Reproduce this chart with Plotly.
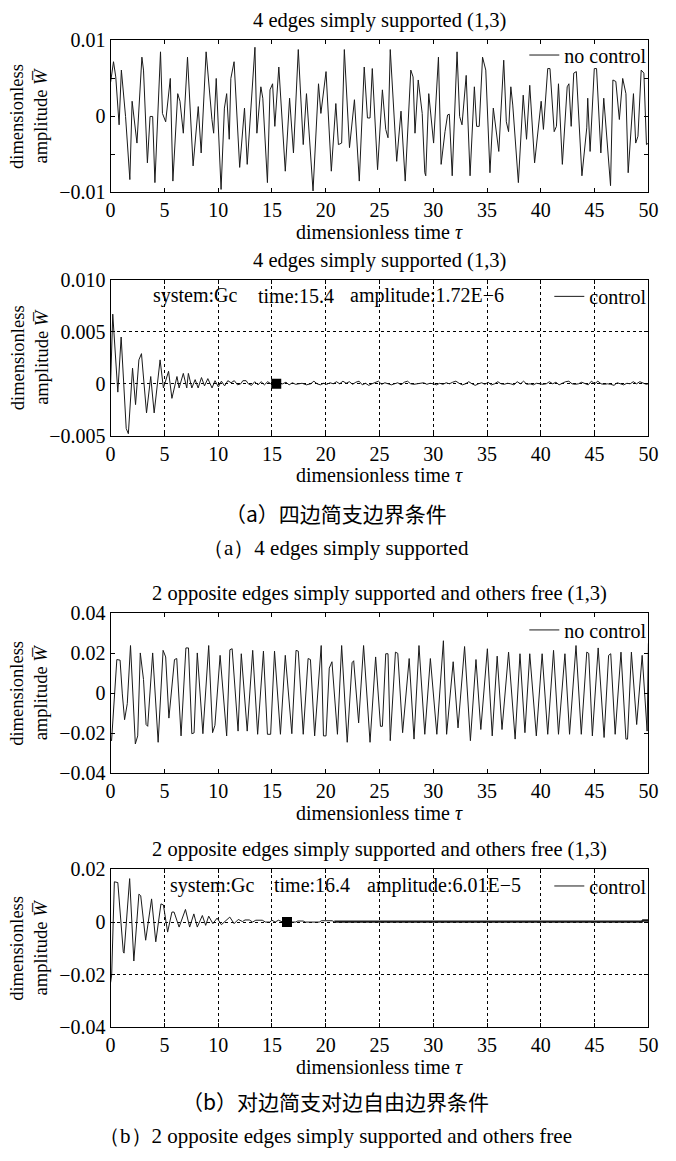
import plotly.graph_objects as go

# ---------------- data (amplitudes in units of 1e-3) ----------------
# Panel (a) no control: 4 edges simply supported
t1 = [0.0, 0.27, 0.48, 0.79, 1.0, 1.39, 1.79, 2.0, 2.45, 2.91,
      3.06, 3.42, 3.67, 3.91, 4.12, 4.64, 4.82, 5.12, 5.55, 5.79,
      6.24, 6.45, 6.76, 7.15, 7.67, 8.15, 8.42, 8.88, 9.42, 9.58,
      9.82, 10.27, 10.58, 10.79, 11.03, 11.18, 11.48, 12.0, 12.45, 12.7,
      13.42, 13.6, 13.97, 14.15, 14.58, 14.82, 15.06, 15.27, 15.64, 16.24,
      16.64, 17.0, 17.45, 17.91, 18.21, 18.82, 19.33, 19.55, 20.03, 20.52,
      20.94, 21.18, 21.48, 21.73, 22.21, 22.67, 23.12, 23.58, 23.88, 24.12,
      24.33, 24.82, 25.27, 25.58, 25.79, 26.0, 26.6, 27.0, 27.39, 27.91,
      28.12, 28.3, 28.6, 28.97, 29.21, 29.3, 29.58, 30.03, 30.48, 30.73,
      31.09, 31.33, 31.49, 31.76, 32.21, 32.45, 32.67, 33.06, 33.42, 33.82,
      34.03, 34.27, 34.58, 34.88, 35.27, 35.58, 36.09, 36.55, 36.79, 37.0,
      37.21, 37.39, 37.91, 38.21, 38.36, 38.67, 38.97, 39.42, 40.03, 40.24,
      40.64, 40.85, 41.24, 41.45, 41.64, 42.0, 42.3, 42.45, 42.61, 42.82,
      43.06, 43.3, 43.82, 44.27, 44.36, 44.58, 44.97, 45.18, 45.58, 45.85,
      46.48, 46.7, 46.97, 47.3, 47.61, 47.91, 48.12, 48.61, 48.82, 49.03,
      49.33, 49.58, 49.82, 50.0]
w1 = [4.5, 7.2, 5.2, -1.1, 6.1, 0.0, -8.3, 2.0, -3.5, 7.8,
      6.1, -6.1, 0.0, 0.0, -8.7, 8.5, 0.4, -0.7, 5.0, -8.5,
      3.0, 2.0, -2.2, 7.8, -6.5, 1.3, -4.8, 8.5, -0.4, -2.2,
      5.0, -9.6, 1.1, 3.0, -3.0, 5.0, 7.2, -6.7, 1.1, -6.3,
      9.1, -2.2, 3.9, 2.4, -8.7, 3.5, 4.3, -1.3, 6.5, -7.2,
      2.4, -4.8, 8.8, -3.7, 3.0, -9.8, 4.3, 0.4, 5.9, -7.2,
      1.7, -3.7, -3.5, 8.8, -4.1, 2.2, -8.5, 6.5, -0.2, -0.2,
      6.3, -7.0, 3.5, -1.7, -2.8, 8.8, -5.9, 0.7, -8.5, 6.1,
      5.2, -2.2, 4.8, 0.4, -7.4, -7.8, 3.0, -3.5, 7.8, -6.3,
      -2.0, 0.2, 0.3, -7.8, 8.5, 0.0, -1.1, 5.4, -7.8, 3.9,
      -1.3, -1.3, 7.8, 6.1, -7.4, 1.1, -4.6, 7.4, -0.7, -2.0,
      3.9, 1.5, -8.7, 0.2, 2.8, -3.0, 4.1, -6.1, 2.0, -1.7,
      6.3, 6.3, -2.0, -1.3, 4.3, -6.3, 1.7, 3.9, 4.3, -1.3,
      5.7, 5.9, -7.8, -1.5, 2.4, -4.6, 6.3, 6.3, -4.8, 2.4,
      -9.1, 4.8, 4.6, -0.4, 5.0, 3.0, -7.4, 3.0, -3.5, -2.6,
      6.1, 5.7, -3.7, -3.5]

# Panel (a) control
t2 = [0.0, 0.2, 0.67, 0.98, 1.45, 1.65, 2.04, 2.32, 2.63, 2.87,
      3.34, 3.73, 4.05, 4.6, 4.91, 5.39, 5.7, 6.17, 6.37, 6.76,
      7.08, 7.23, 7.55, 7.86, 8.14, 8.45, 8.73, 9.04, 9.43, 9.71,
      10.02,
      10.3, 10.6, 10.9, 11.2, 11.5, 11.8, 12.1, 12.3, 12.6, 12.8,
      13.1, 13.4, 13.7, 14.0, 14.3, 14.6, 14.9, 15.4, 16.0, 16.3,
      16.6, 16.9, 17.2, 17.5, 17.8, 18.2, 18.6, 18.9, 19.2, 19.5,
      19.8, 20.1, 20.4, 20.7, 21.0, 21.3, 21.6, 21.9, 22.2, 22.5,
      22.8, 23.1, 23.4, 23.7, 24.0, 24.3, 24.6, 24.9, 25.2, 25.5,
      25.8, 26.1, 26.4, 26.7, 27.0, 27.3, 27.6, 27.9, 28.2, 28.5,
      28.8, 29.1, 29.4, 29.7, 30.0, 30.3, 30.6, 30.9, 31.2, 31.5,
      31.8, 32.1, 32.4, 32.7, 33.0, 33.3, 33.6, 33.9, 34.2, 34.5,
      34.8, 35.1, 35.4, 35.7, 36.0, 36.3, 36.6, 36.9, 37.2, 37.5,
      37.8, 38.1, 38.4, 38.7, 39.0, 39.3, 39.6, 39.9, 40.2, 40.5,
      40.8, 41.1, 41.4, 41.7, 42.0, 42.3, 42.6, 42.9, 43.2, 43.5,
      43.8, 44.1, 44.4, 44.7, 45.0, 45.3, 45.6, 45.9, 46.2, 46.5,
      46.8, 47.1, 47.4, 47.7, 48.0, 48.3, 48.6, 48.9, 49.2, 49.5,
      49.8, 50.0]
w2 = [0.0, 6.7, -0.8, 4.5, -4.3, -4.8, 1.5, -2.0, 2.3, 2.9,
      -2.8, 0.7, -2.8, 2.3, -0.4, 1.2, -1.4, 0.7, -0.4, 1.0,
      -0.4, 1.0, -0.4, 0.4, -0.4, 0.6, -0.2, 0.5, -0.4, 0.3,
      -0.3,
      0.25, -0.2, 0.3, 0.1, 0.3, -0.1, 0.0, 0.3, 0.3, 0.0,
      -0.15, 0.2, -0.1, 0.2, -0.1, 0.2, 0.0, 0.0, 0.0, 0.15,
      -0.1, 0.1, -0.05, 0.0, 0.05, -0.1, 0.0, 0.25, 0.0, -0.1,
      0.05, -0.05, 0.1, 0.0, 0.2, 0.0, 0.25, 0.05, 0.2, -0.05,
      0.15, 0.25, -0.1, 0.05, -0.15, 0.0, 0.15, 0.25, -0.05, 0.1,
      0.0, -0.1, 0.0, 0.1, -0.1, 0.15, 0.25, 0.0, -0.05, 0.0,
      0.0, 0.1, -0.05, 0.05, 0.0, -0.1, 0.05, -0.05, 0.1, 0.0,
      0.15, 0.25, 0.05, -0.1, 0.0, 0.2, 0.0, -0.15, 0.0, 0.1,
      -0.05, 0.15, -0.1, 0.0, 0.2, 0.0, -0.05, 0.05, 0.0, -0.1,
      0.2, 0.0, 0.25, -0.05, 0.0, -0.1, 0.05, 0.0, -0.05, 0.0,
      0.2, 0.0, 0.15, -0.1, 0.05, 0.2, 0.25, 0.0, -0.05, 0.0,
      0.15, 0.0, -0.1, 0.25, 0.0, 0.25, 0.0, -0.05, 0.0, -0.05,
      -0.15, 0.1, 0.0, -0.1, 0.05, 0.0, 0.2, 0.0, 0.2, 0.05,
      -0.05, 0.0]

# Panel (b) no control: 2 opposite edges simply supported, others free
t3 = [0.0, 0.09, 0.58, 0.88, 1.09, 1.3, 1.55, 1.85, 2.3, 2.52,
      2.76, 3.06, 3.3, 3.45, 3.91, 4.42, 4.88, 5.12, 5.42, 5.94,
      6.15, 6.55, 7.0, 7.24, 7.55, 7.76, 8.06, 8.58, 9.12, 9.48,
      9.7, 10.18, 10.79, 11.09, 11.3, 11.85, 12.15, 12.7, 13.21, 13.67,
      14.21, 14.58, 14.88, 15.24, 15.79, 16.24, 16.85, 17.24, 17.45, 17.91,
      18.36, 18.58, 18.97, 19.58, 19.79, 20.03, 20.33, 20.58, 21.09, 21.48,
      22.0, 22.45, 22.6, 23.06, 23.52, 24.12, 24.64, 25.09, 25.27, 25.58,
      25.79, 26.0, 26.48, 26.7, 27.15, 27.76, 28.21, 28.67, 29.21, 29.73,
      30.33, 30.94, 31.24, 31.85, 32.3, 32.91, 33.45, 33.97, 34.42, 35.03,
      35.48, 35.94, 36.39, 37.0, 37.61, 38.06, 38.52, 38.97, 39.58, 40.12,
      40.64, 41.18, 41.64, 42.24, 42.67, 43.27, 43.76, 44.27, 44.45, 44.79,
      45.33, 45.88, 46.3, 46.5, 46.91, 47.45, 47.91, 48.06, 48.42, 48.91,
      49.42, 49.88, 50.0]
w3 = [-23.0, -23.7, 16.9, 16.6, -0.3, -13.2, -5.2, 23.9, -25.3, -21.3,
      20.2, 6.9, -15.6, -16.5, 20.2, -24.5, 21.5, 18.2, -12.4, 16.9,
      17.4, -21.3, 22.7, 22.7, -20.2, -19.8, 20.2, -20.2, 23.9, -19.7,
      -16.0, 19.0, -21.3, 21.8, 22.3, -18.9, 19.8, -18.9, 21.5, -20.5,
      21.1, -20.5, -20.5, 21.1, -20.5, 19.0, -20.2, 21.5, 21.1, -20.5,
      17.4, 16.9, -21.3, 23.9, -21.3, -21.3, 12.6, 15.8, -20.5, 23.9,
      -24.5, 15.3, 16.3, -14.8, 23.9, -24.5, 18.2, -16.5, -16.5, 19.8,
      19.8, -23.7, 20.6, 20.0, -19.7, 17.4, -22.9, 23.9, -20.5, 17.4,
      -20.5, 26.3, -20.5, 15.8, -17.3, 23.4, -23.7, 16.9, -18.1, 22.3,
      -21.3, 18.6, -18.1, 20.6, -22.9, 19.8, -19.7, 19.8, -21.3, 19.8,
      -20.5, 21.5, -20.5, 19.8, -20.5, 23.9, -20.5, 20.6, 20.0, -21.3,
      22.7, -22.1, 19.0, 19.8, -20.5, 20.6, -22.9, -22.9, 20.6, -15.6,
      19.0, -18.9, 25.0]

# Panel (b) control
t4 = [0.0, 0.1, 0.35, 0.67, 1.18, 1.25, 1.77, 2.16, 2.63, 2.8,
      3.26, 3.81, 4.2, 4.68, 4.91, 5.3, 5.7, 5.9, 6.37, 6.96,
      7.35, 7.74, 8.06, 8.53, 8.84, 9.12, 9.51, 9.9, 10.3, 10.7,
      11.08, 11.48, 11.87, 12.26, 12.5, 12.9, 13.2, 13.5, 13.8, 14.1,
      14.4, 14.8, 15.0, 15.3, 15.6, 16.0, 17.2, 17.4, 17.9, 18.1,
      19.4, 19.6, 20.6, 20.8]
w4 = [-23.0, -20.0, 15.3, 15.0, -11.3, -11.8, 16.5, -14.8, 10.6, 10.0,
      -6.9, 8.8, -7.5, 6.9, 6.5, -3.8, 3.8, 3.8, -1.9, 4.8,
      -1.9, 3.1, -1.9, 2.5, -1.25, 2.25, -0.6, 1.5, -1.0, 0.6,
      1.9, -0.6, 1.0, 0.2, 0.8, 0.8, 0.0, 0.7, 0.7, 0.7,
      0.0, 0.0, 0.7, 0.0, 0.7, 0.0, 0.0, 0.4, 0.4, 0.0,
      0.0, 0.5, 0.5, 0.1]
t4_tail = [20.8, 29.0, 29.5, 35.5, 36.0, 49.4, 49.5, 50.0]
w4_tail = [0.15, 0.15, 0.05, 0.1, 0.25, 0.15, 0.6, 0.6]

# marked points (time, amplitude)
mark_a = (15.4, 1.72e-6)
mark_b = (16.4, 6.01e-5)

titles = ["4 edges simply supported (1,3)", "4 edges simply supported (1,3)",
          "2 opposite edges simply supported and others free (1,3)",
          "2 opposite edges simply supported and others free (1,3)"]
legend_names = ["no control", "control", "no control", "control"]
xticks = [0, 5, 10, 15, 20, 25, 30, 35, 40, 45, 50]
yticks = [[-0.01, -0.005, 0, 0.005, 0.01], [-0.005, 0, 0.005, 0.010],
          [-0.04, -0.02, 0, 0.02, 0.04], [-0.04, -0.02, 0, 0.02]]
yticktext = [["\u22120.01", "", "0", "", "0.01"], ["\u22120.005", "0", "0.005", "0.010"],
             ["\u22120.04", "\u22120.02", "0", "0.02", "0.04"], ["\u22120.04", "\u22120.02", "0", "0.02"]]
yranges = [[-0.01, 0.01], [-0.005, 0.010], [-0.04, 0.04], [-0.04, 0.02]]

for a, b in [(t1, w1), (t2, w2), (t3, w3), (t4, w4), (t4_tail, w4_tail)]:
    assert len(a) == len(b), (len(a), len(b))

# ---------------- layout helpers ----------------
W, H = 676, 1161
FONT = "Liberation Serif, Times New Roman, serif"
CJK = "Noto Sans CJK SC, sans-serif"
LC = "#1a1a1a"
FS = 20


def px(p):
    return p / W


def py(p):
    return 1 - p / H


X0, X1 = 108, 658
boxes = [(30, 185), (274, 433), (614, 777), (875, 1036)]

fig = go.Figure()
series = [(t1, w1), (t2, w2), (t3, w3), (t4, w4)]
for i, (tt, ww) in enumerate(series):
    k = i + 1
    suf = "" if k == 1 else str(k)
    fig.add_trace(go.Scatter(
        x=tt, y=[v * 1e-3 for v in ww], mode="lines",
        line=dict(color=LC, width=1), name=legend_names[i],
        xaxis="x" + suf, yaxis="y" + suf,
        legend="legend" + suf, showlegend=True))

fig.add_trace(go.Scatter(x=t4_tail, y=[v * 1e-3 for v in w4_tail], mode="lines",
                         line=dict(color=LC, width=2.4), xaxis="x4", yaxis="y4",
                         showlegend=False))
fig.add_trace(go.Scatter(x=[mark_a[0]], y=[mark_a[1]], mode="markers",
                         marker=dict(symbol="square", size=10, color="black"),
                         xaxis="x2", yaxis="y2", showlegend=False))
fig.add_trace(go.Scatter(x=[mark_b[0]], y=[mark_b[1]], mode="markers",
                         marker=dict(symbol="square", size=10, color="black"),
                         xaxis="x4", yaxis="y4", showlegend=False))

layout = dict(width=W, height=H, margin=dict(l=0, r=0, t=0, b=0),
              paper_bgcolor="white", plot_bgcolor="white",
              font=dict(family=FONT, size=FS, color="black"))
annotations = []
for i, (top, bot) in enumerate(boxes):
    k = i + 1
    suf = "" if k == 1 else str(k)
    grid = (k in (2, 4))
    layout["xaxis" + suf] = dict(
        domain=[px(X0), px(X1)], range=[0, 50], anchor="y" + suf,
        tickvals=xticks, ticks="inside", ticklen=4, tickcolor="black",
        showline=True, linecolor="black", linewidth=1, mirror="ticks",
        showgrid=grid, gridcolor="black", griddash="dot", gridwidth=1,
        zeroline=False, tickfont=dict(family=FONT, size=FS, color="black"))
    layout["yaxis" + suf] = dict(
        domain=[py(bot), py(top)], range=yranges[i], anchor="x" + suf,
        tickvals=yticks[i], ticktext=yticktext[i], ticks="inside", ticklen=4,
        tickcolor="black", showline=True, linecolor="black", linewidth=1,
        mirror="ticks", showgrid=grid, gridcolor="black", griddash="dot",
        gridwidth=1, zeroline=False,
        tickfont=dict(family=FONT, size=FS, color="black"))
    layout["legend" + suf] = dict(
        x=px(X1 + 4), xanchor="right", y=py(top - 5 if k == 1 else top - 3),
        yanchor="top", bgcolor="rgba(0,0,0,0)", borderwidth=0, itemwidth=30,
        font=dict(family=FONT, size=FS, color="black"))
    # title
    annotations.append(dict(text=titles[i], x=px((X0 + X1) / 2), y=py(top - 20),
                            xref="paper", yref="paper", showarrow=False,
                            xanchor="center", yanchor="middle",
                            font=dict(family=FONT, size=20.5)))
    # x title
    annotations.append(dict(text="dimensionless time <i>\u03c4</i>",
                            x=px((X0 + X1) / 2), y=py(bot + 40),
                            xref="paper", yref="paper", showarrow=False,
                            xanchor="center", yanchor="middle",
                            font=dict(family=FONT, size=FS)))
    # y title
    annotations.append(dict(text="dimensionless<br>amplitude <i>W\u0305</i>",
                            x=px(25), y=py((top + bot) / 2),
                            xref="paper", yref="paper", showarrow=False,
                            xanchor="center", yanchor="middle", textangle=-90,
                            font=dict(family=FONT, size=18.5)))

# info texts
info = [(2, 274, [(149, "system:Gc"), (257, "time:15.4"), (351, "amplitude:1.72E\u22126")]),
        (4, 875, [(167, "system:Gc"), (273, "time:16.4"), (368, "amplitude:6.01E\u22125")])]
for k, top, items in info:
    for xx, txt in items:
        annotations.append(dict(text=txt, x=px(xx), y=py(top + 16), xref="paper",
                                yref="paper", showarrow=False, xanchor="left",
                                yanchor="middle", font=dict(family=FONT, size=FS)))

captions = [(512, "\uff08a\uff09四边简支边界条件", CJK, 21),
            (547, "\uff08a\uff094 edges simply supported", FONT, 21),
            (1111, "\uff08b\uff09对边简支对边自由边界条件", CJK, 21),
            (1147, "\uff08b\uff092 opposite edges simply supported and others free", FONT, 21)]
for yy, txt, fam, fs in captions:
    annotations.append(dict(text=txt, x=0.5, y=py(yy), xref="paper", yref="paper",
                            showarrow=False, xanchor="center", yanchor="middle",
                            font=dict(family=fam, size=fs)))

layout["annotations"] = annotations
fig.update_layout(**layout)
fig.write_html("out.html", config={"displayModeBar": False},
               post_script="document.body.style.margin='0';document.body.style.overflow='hidden';")
